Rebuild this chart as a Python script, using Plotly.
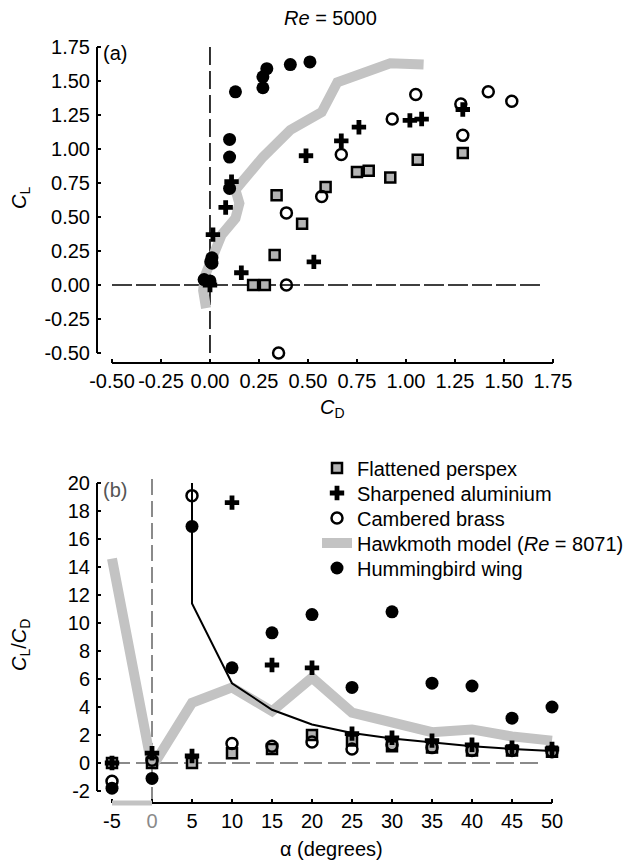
import plotly.graph_objects as go

# ---------------- Panel (a): CL vs CD, Re = 5000 ----------------
perspex_cd = [0.22, 0.28, 0.33, 0.34, 0.47, 0.59, 0.75, 0.81, 0.92, 1.06, 1.29]
perspex_cl = [0.00, 0.00, 0.22, 0.66, 0.45, 0.72, 0.83, 0.84, 0.79, 0.92, 0.97]

alu_cd = [0.00, 0.015, 0.08, 0.11, 0.16, 0.53, 0.49, 0.67, 0.76, 1.02, 1.08, 1.29]
alu_cl = [0.00, 0.37, 0.57, 0.76, 0.09, 0.17, 0.95, 1.06, 1.16, 1.21, 1.22, 1.29]

brass_cd = [0.005, 0.35, 0.39, 0.39, 0.57, 0.67, 0.93, 1.05, 1.29, 1.28, 1.42, 1.54]
brass_cl = [0.17, -0.50, 0.00, 0.53, 0.65, 0.96, 1.22, 1.40, 1.10, 1.33, 1.42, 1.35]

hawk_cd = [-0.02, -0.035, -0.025, 0.01, 0.06, 0.13, 0.15, 0.13, 0.18, 0.27, 0.41, 0.57, 0.65, 0.92, 1.09]
hawk_cl = [-0.17, -0.04, 0.07, 0.20, 0.37, 0.49, 0.60, 0.70, 0.79, 0.94, 1.14, 1.27, 1.49, 1.63, 1.62]

hb_cd = [-0.03, 0.00, 0.01, 0.01, 0.10, 0.10, 0.10, 0.13, 0.27, 0.27, 0.29, 0.41, 0.51]
hb_cl = [0.04, 0.03, 0.16, 0.20, 0.71, 0.94, 1.07, 1.42, 1.45, 1.53, 1.59, 1.62, 1.64]

cd_ticks = [-0.5, -0.25, 0.0, 0.25, 0.5, 0.75, 1.0, 1.25, 1.5, 1.75]
cd_ticktext = ["-0.50", "-0.25", "0.00", "0.25", "0.50", "0.75", "1.00", "1.25", "1.50", "1.75"]
cl_ticks = [-0.5, -0.25, 0.0, 0.25, 0.5, 0.75, 1.0, 1.25, 1.5, 1.75]
cl_ticktext = ["-0.50", "-0.25", "0.00", "0.25", "0.50", "0.75", "1.00", "1.25", "1.50", "1.75"]

# ---------------- Panel (b): CL/CD vs alpha ----------------
alpha = [-5, 0, 5, 10, 15, 20, 25, 30, 35, 40, 45, 50]
perspex_ratio = [0.0, 0.0, 0.0, 0.7, 1.0, 2.0, 1.6, 1.2, 1.1, 0.9, 0.9, 0.8]
alu_ratio = [0.0, 0.7, 0.5, 18.6, 7.0, 6.8, 2.1, 1.8, 1.6, 1.3, 1.1, 1.0]
brass_ratio = [-1.3, 0.2, 19.1, 1.4, 1.2, 1.5, 1.0, 1.3, 1.1, 0.9, 0.9, 0.8]
hawk_ratio = [14.6, -0.3, 4.3, 5.4, 3.7, 6.1, 3.6, 2.9, 2.2, 2.4, 1.9, 1.6]
hb_ratio = [-1.8, -1.1, 16.9, 6.8, 9.3, 10.6, 5.4, 10.8, 5.7, 5.5, 3.2, 4.0]

curve_alpha = [5, 5, 10, 15, 20, 25, 30, 35, 40, 45, 50]
curve_ratio = [20.0, 11.4, 5.7, 3.8, 2.75, 2.15, 1.75, 1.45, 1.2, 1.0, 0.85]

alpha_ticks = [-5, 0, 5, 10, 15, 20, 25, 30, 35, 40, 45, 50]
alpha_ticktext = ["-5", "<span style='color:#8a8a8a'>0</span>", "5", "10", "15", "20",
                  "25", "30", "35", "40", "45", "50"]
ratio_ticks = [-2, 0, 2, 4, 6, 8, 10, 12, 14, 16, 18, 20]
ratio_ticktext = ["-2", "0", "2", "4", "6", "8", "10", "12", "14", "16", "18", "20"]

legend_names = ["Flattened perspex", "Sharpened aluminium", "Cambered brass",
                "Hawkmoth model (<i>Re</i> = 8071)", "Hummingbird wing"]

W, H = 644, 863
FONT = "Liberation Sans, Arial, Helvetica, sans-serif"
FS = 20
LFS = 20
HAWK = "#c3c3c3"
SQFILL = "#b4b4b4"


def px_x(p):
    return p / W


def px_y(p):
    return 1 - p / H


fig = go.Figure()

sq = dict(symbol="square", size=10, color=SQFILL, line=dict(color="black", width=2.5))
cr = dict(symbol="cross", size=12, color="black", line=dict(width=0))
oc = dict(symbol="circle-open", size=11, color="black", line=dict(color="black", width=2.5))
dot = dict(symbol="circle", size=13, color="black", line=dict(width=0))

# Panel (a)
fig.add_trace(go.Scatter(x=hawk_cd, y=hawk_cl, mode="lines", line=dict(color=HAWK, width=10),
                         showlegend=False, xaxis="x", yaxis="y"))
fig.add_trace(go.Scatter(x=perspex_cd, y=perspex_cl, mode="markers", marker=sq,
                         showlegend=False, xaxis="x", yaxis="y"))
fig.add_trace(go.Scatter(x=alu_cd, y=alu_cl, mode="markers", marker=cr,
                         showlegend=False, xaxis="x", yaxis="y"))
fig.add_trace(go.Scatter(x=brass_cd, y=brass_cl, mode="markers", marker=oc,
                         showlegend=False, xaxis="x", yaxis="y"))
fig.add_trace(go.Scatter(x=hb_cd, y=hb_cl, mode="markers", marker=dot,
                         showlegend=False, xaxis="x", yaxis="y"))

# Panel (b) -- each legend entry in its own legend box so spacing matches
fig.add_trace(go.Scatter(x=alpha, y=hawk_ratio, mode="lines", line=dict(color=HAWK, width=10),
                         name=legend_names[3], legend="legend4", xaxis="x2", yaxis="y2"))
fig.add_trace(go.Scatter(x=curve_alpha, y=curve_ratio, mode="lines", line=dict(color="black", width=2),
                         showlegend=False, xaxis="x2", yaxis="y2"))
fig.add_trace(go.Scatter(x=alpha, y=perspex_ratio, mode="markers", marker=sq,
                         name=legend_names[0], legend="legend", xaxis="x2", yaxis="y2"))
fig.add_trace(go.Scatter(x=alpha, y=alu_ratio, mode="markers", marker=cr,
                         name=legend_names[1], legend="legend2", xaxis="x2", yaxis="y2"))
fig.add_trace(go.Scatter(x=alpha, y=brass_ratio, mode="markers", marker=oc,
                         name=legend_names[2], legend="legend3", xaxis="x2", yaxis="y2"))
fig.add_trace(go.Scatter(x=alpha, y=hb_ratio, mode="markers", marker=dot,
                         name=legend_names[4], legend="legend5", xaxis="x2", yaxis="y2"))

axis_common = dict(showgrid=False, zeroline=False, showline=False, ticks="inside",
                   ticklen=4, tickwidth=2, tickcolor="black", tickangle=0, automargin=False,
                   tickfont=dict(family=FONT, size=FS, color="black"))


def leg(center_px):
    return dict(x=px_x(317), y=px_y(center_px), xanchor="left", yanchor="middle",
                bgcolor="rgba(0,0,0,0)", font=dict(family=FONT, size=LFS, color="black"),
                itemwidth=30, borderwidth=0)


fig.update_layout(
    template="none",
    width=W, height=H,
    margin=dict(l=0, r=0, t=0, b=0, pad=0),
    paper_bgcolor="white", plot_bgcolor="white",
    font=dict(family=FONT, size=FS, color="black"),
    xaxis=dict(domain=[px_x(97), px_x(560)], range=[-0.5765, 1.786], anchor="y",
               tickvals=cd_ticks, ticktext=cd_ticktext, ticklabelstandoff=4, **axis_common),
    yaxis=dict(domain=[px_y(363), px_y(40)], range=[-0.5735, 1.801], anchor="x",
               tickvals=cl_ticks, ticktext=cl_ticktext, ticklabelstandoff=6, **axis_common),
    xaxis2=dict(domain=[px_x(97), px_x(560)], range=[-6.875, 51], anchor="y2",
                tickvals=alpha_ticks, ticktext=alpha_ticktext, ticklabelstandoff=4, **axis_common),
    yaxis2=dict(domain=[px_y(803), px_y(478)], range=[-2.857, 20.36], anchor="x2",
                tickvals=ratio_ticks, ticktext=ratio_ticktext, ticklabelstandoff=6, **axis_common),
    legend=leg(468),
    legend2=leg(493),
    legend3=leg(518),
    legend4=leg(543),
    legend5=leg(568),
    showlegend=True,
)

shapes = [
    # Panel (a) range-frame axes
    dict(type="line", xref="x domain", yref="y", x0=0, x1=0, y0=-0.5, y1=1.75,
         line=dict(color="black", width=2)),
    dict(type="line", xref="x", yref="y domain", x0=-0.5, x1=1.75, y0=0, y1=0,
         line=dict(color="black", width=2)),
    # Panel (a) dashed zero lines
    dict(type="line", xref="x", yref="y", x0=0, x1=0, y0=-0.5, y1=1.76,
         line=dict(color="black", width=1.6, dash="18px,6px"), layer="below"),
    dict(type="line", xref="x", yref="y", x0=-0.5, x1=1.70, y0=0, y1=0,
         line=dict(color="black", width=1.6, dash="20px,4px"), layer="below"),
    # Panel (b) range-frame axes
    dict(type="line", xref="x2 domain", yref="y2", x0=0, x1=0, y0=-2, y1=20,
         line=dict(color="black", width=2)),
    dict(type="line", xref="x2", yref="y2 domain", x0=-5, x1=50, y0=0, y1=0,
         line=dict(color="black", width=2)),
    dict(type="line", xref="x2", yref="y2 domain", x0=-5, x1=0, y0=0, y1=0,
         line=dict(color=HAWK, width=5)),
    # Panel (b) dashed zero lines
    dict(type="line", xref="x2", yref="y2", x0=0, x1=0, y0=-2.85, y1=20.3,
         line=dict(color="#8a8a8a", width=2, dash="16px,6px"), layer="below"),
    dict(type="line", xref="x2", yref="y2", x0=-5, x1=48.8, y0=0, y1=0,
         line=dict(color="#8a8a8a", width=2, dash="18px,6px"), layer="below"),
]
fig.update_layout(shapes=shapes)


def note(text, xp, yp, xanchor="center", angle=0, color="black"):
    return dict(text=text, x=px_x(xp), y=px_y(yp), xref="paper", yref="paper",
                xanchor=xanchor, yanchor="middle", textangle=angle, showarrow=False,
                font=dict(family=FONT, size=FS, color=color))


ann = [
    note("<i>Re</i> = 5000", 330, 18),
    note("(a)", 101, 53, xanchor="left"),
    note("(b)", 101, 490, xanchor="left", color="#555555"),
    note("<i>C</i><sub>L</sub>", 20, 198, angle=-90),
    note("<i>C</i><sub>D</sub>", 333, 408),
    note("<i>C</i><sub>L</sub>/<i>C</i><sub>D</sub>", 20, 645, angle=-90),
    note("α (degrees)", 331, 849),
]
fig.update_layout(annotations=ann)

fig.write_html("out.html", config={"displayModeBar": False},
               post_script="document.body.style.margin='0px';")
